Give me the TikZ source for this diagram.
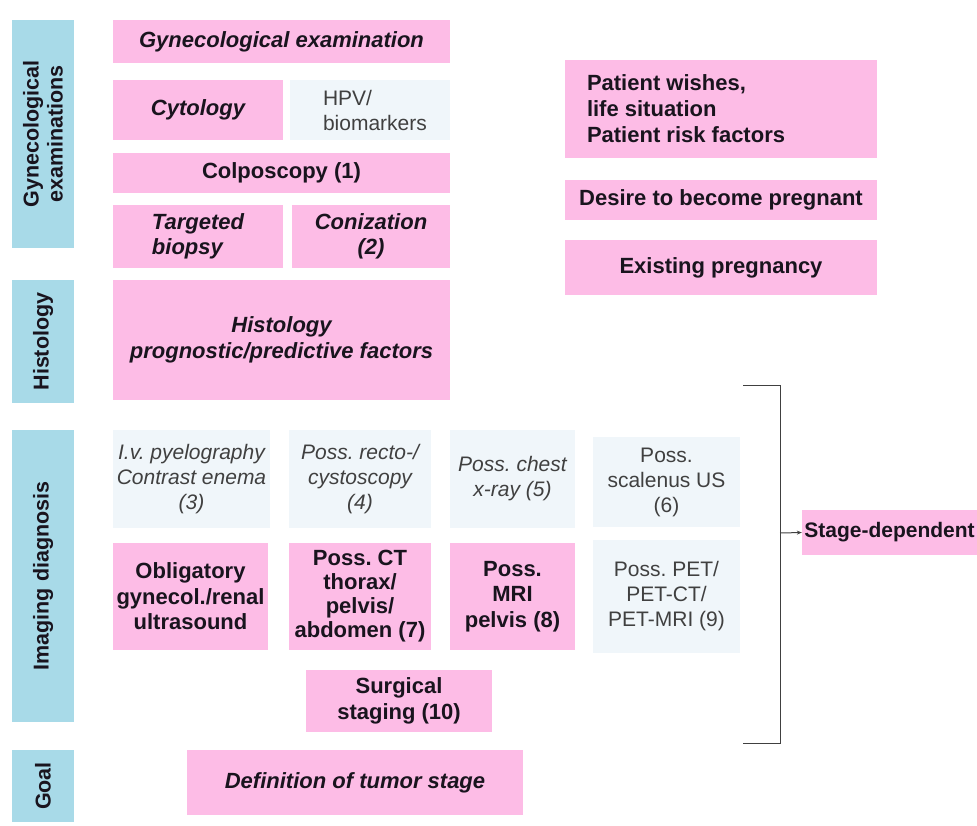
\documentclass[tikz,border=0pt]{standalone}
\usepackage{fontspec}
\setmainfont{Liberation Sans}
\usetikzlibrary{arrows.meta}
\definecolor{pinkbg}{RGB}{253,188,230}
\definecolor{barbg}{RGB}{168,218,232}
\definecolor{palebg}{RGB}{240,246,250}
\definecolor{ink}{RGB}{25,20,30}
\definecolor{greyink}{RGB}{64,64,64}
\frenchspacing
\begin{document}
\begin{tikzpicture}[x=1pt, y=-1pt,
  every node/.style={font=\fontsize{21}{25}\selectfont, inner sep=0pt, align=center, text=ink},
  pk/.style={fill=pinkbg, font=\fontsize{22}{25.5}\selectfont\bfseries},
  pki/.style={pk, font=\fontsize{22}{25.5}\selectfont\bfseries\itshape},
  pale/.style={fill=palebg, text=greyink},
  palei/.style={pale, font=\fontsize{21}{25}\selectfont\itshape},
  bar/.style={fill=barbg, rotate=90, minimum height=62pt, font=\fontsize{21.5}{24}\selectfont\bfseries}]
  \useasboundingbox (0,0) rectangle (977,825);
  % side bars
  \node[bar, minimum width=228pt] (bgyn) at (43,134) {Gynecological\\examinations};
  \node[bar, minimum width=123pt] (bhist) at (43,341.5) {Histology};
  \node[bar, minimum width=292pt] (bimag) at (43,576) {Imaging diagnosis};
  \node[bar, minimum width=72pt] (bgoal) at (43,786) {Goal};
  % gynecological examinations
  \node[pki, minimum width=337pt, minimum height=43pt] (gynex) at (281.5,41.5) {Gynecological examination};
  \node[pki, minimum width=170pt, minimum height=60pt] (cyto) at (198,110) {Cytology};
  \node[pale, minimum width=160pt, minimum height=60pt] (hpv) at (370,110) {};
  \node[text=greyink, align=left, anchor=west] (hpvtxt) at ([xshift=33pt]hpv.west) {HPV/\\biomarkers};
  \node[pk, minimum width=337pt, minimum height=40pt] (colpo) at (281.5,173) {Colposcopy (1)};
  \node[pki, minimum width=170pt, minimum height=63pt, align=left] (biopsy) at (198,236.5) {Targeted\\biopsy};
  \node[pki, minimum width=158pt, minimum height=63pt] (coniz) at (371,236.5) {Conization\\(2)};
  % histology
  \node[pki, minimum width=337pt, minimum height=120pt] (histo) at (281.5,340) {Histology\\prognostic/predictive factors};
  % imaging diagnosis
  \node[palei, minimum width=157pt, minimum height=98pt] (ivp) at (191.5,479) {I.v. pyelography\\Contrast enema\\(3)};
  \node[palei, minimum width=142pt, minimum height=98pt] (recto) at (360,479) {Poss. recto-/\\cystoscopy\\(4)};
  \node[palei, minimum width=125pt, minimum height=98pt] (chest) at (512.5,479) {Poss. chest\\x-ray (5)};
  \node[pale, minimum width=147pt, minimum height=90pt] (scal) at (666.5,482) {Poss.\\scalenus US\\(6)};
  \node[pk, minimum width=155pt, minimum height=107pt] (oblig) at (190.5,596.5) {Obligatory\\gynecol./renal\\ultrasound};
  \node[pk, minimum width=142pt, minimum height=107pt, font=\fontsize{22}{24}\selectfont\bfseries] (ct) at (360,596.5) {Poss. CT\\thorax/\\pelvis/\\abdomen (7)};
  \node[pk, minimum width=125pt, minimum height=107pt] (mri) at (512.5,596.5) {Poss.\\MRI\\pelvis (8)};
  \node[pale, minimum width=147pt, minimum height=113pt] (pet) at (666.5,596.5) {Poss. PET/\\PET-CT/\\PET-MRI (9)};
  \node[pk, minimum width=186pt, minimum height=62pt] (surg) at (399,701) {Surgical\\staging (10)};
  % goal
  \node[pki, minimum width=336pt, minimum height=65pt] (defn) at (355,782.5) {Definition of tumor stage};
  % patient side
  \node[pk, minimum width=312pt, minimum height=98pt] (wish) at (721,109) {};
  \node[pk, fill=none, align=left, anchor=west, font=\fontsize{22}{26}\selectfont\bfseries] (wishtxt) at ([xshift=22pt]wish.west) {Patient wishes,\\life situation\\Patient risk factors};
  \node[pk, minimum width=312pt, minimum height=40pt] (desire) at (721,200) {Desire to become pregnant};
  \node[pk, minimum width=312pt, minimum height=55pt] (exist) at (721,267.5) {Existing pregnancy};
  % stage-dependent bracket
  \node[pk, minimum width=175pt, minimum height=45pt, font=\fontsize{21}{25}\selectfont\bfseries] (stage) at (889.5,532.5) {Stage-dependent};
  \coordinate (brtop) at (743,385);
  \coordinate (brbot) at (743,743);
  \coordinate (brmid) at (780,533);
  \draw[greyink, line width=1pt] (brtop) -| (brmid) |- (brbot);
  \draw[greyink, line width=1pt, -{Stealth[length=5pt, width=4pt]}] (brmid) -- (stage.west);
\end{tikzpicture}
\end{document}
